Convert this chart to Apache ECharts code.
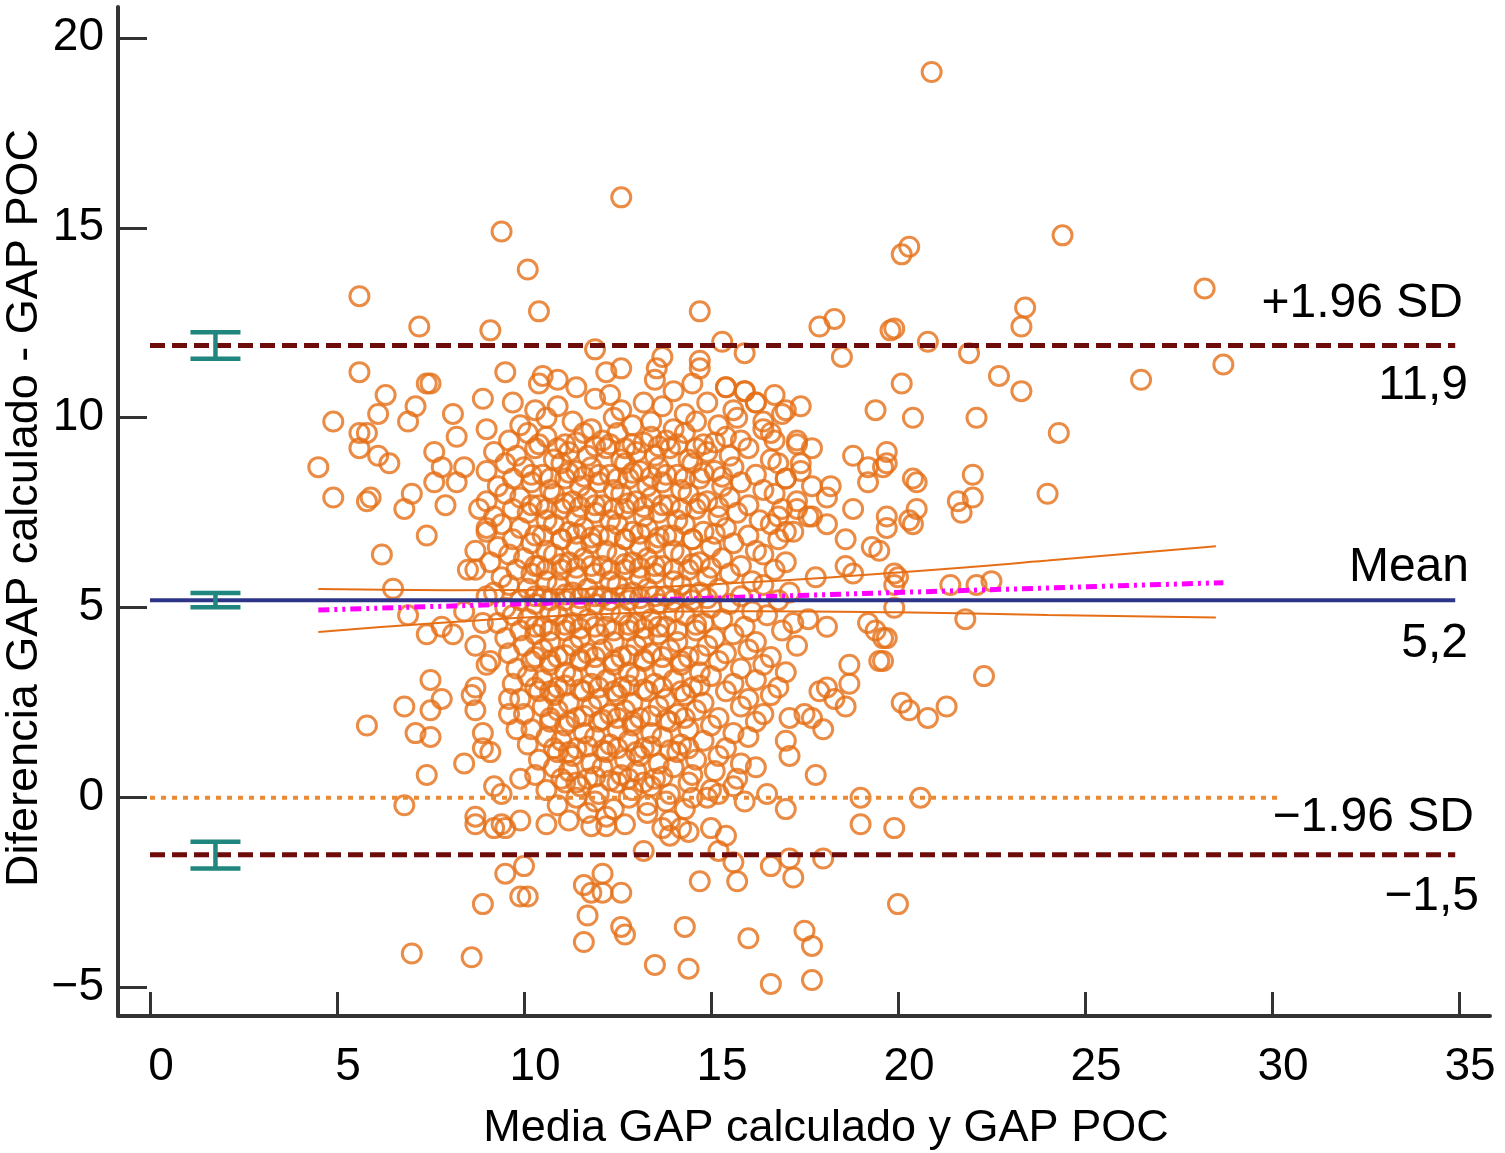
<!DOCTYPE html>
<html>
<head>
<meta charset="utf-8">
<script src="https://cdn.jsdelivr.net/npm/echarts@6/dist/echarts.min.js"></script>
<style>html,body{margin:0;padding:0;background:#fff}#c{width:1505px;height:1153px}</style>
</head>
<body>
<div id="c"></div>
<script>
// ---------- DATA ----------
const xTicks = [0, 5, 10, 15, 20, 25, 30, 35];
const yTicks = [-5, 0, 5, 10, 15, 20];

const meanDiff = 5.2;
const upperLoA = 11.9;
const lowerLoA = -1.5;

const pointsHigh = [[20.9,19.1],[12.6,15.8],[9.4,14.9],[24.4,14.8],[20.3,14.5],[20.1,14.3],[10.1,13.9],[5.6,13.2],[28.2,13.4],[10.4,12.8],[14.7,12.8],[23.4,12.9],[23.3,12.4],[7.2,12.4],[9.1,12.3],[17.9,12.4],[18.3,12.6],[19.8,12.3],[19.9,12.35],[20.8,12.0],[15.3,12.0],[11.9,11.8],[12.6,11.3],[13.7,11.6],[13.55,11.3],[14.7,11.5],[14.7,11.3],[15.9,11.7],[18.5,11.6],[21.9,11.7],[5.6,11.2],[9.5,11.2],[10.5,11.1],[28.7,11.4],[26.5,11.0],[22.7,11.1],[12.2,11.2],[10.9,11.0]];

const pointsLeft = [[4.5,8.7],[4.9,9.9],[4.9,7.9],[5.6,9.2],[5.8,9.6],[5.6,9.6],[5.8,7.8],[5.9,7.9],[5.8,1.9],[6.2,6.4],[6.1,10.1],[6.1,9.0],[6.3,10.6],[6.4,8.8],[6.5,5.5],[6.8,7.6],[6.8,2.4],[6.8,-0.2],[7.0,8.0],[6.9,9.9],[7.1,10.3],[7.1,1.7],[7.4,10.9],[7.5,10.9],[7.4,6.9],[7.5,3.1],[7.8,2.6],[7.5,2.3],[7.5,1.6],[7.4,0.6],[7.6,8.3],[7.6,9.1],[7.8,8.7],[7.4,4.3],[6.9,4.8],[7.9,7.7],[8.1,10.1],[8.2,9.5],[8.2,8.3],[8.4,8.7],[8.1,4.3],[7.8,4.5],[8.7,6.5],[9.0,7.1],[8.8,7.6],[8.4,0.9],[8.7,-0.5],[8.7,-0.7],[8.9,10.5],[9.0,9.7],[8.7,4.0],[9.0,3.5],[8.6,2.7],[8.7,2.3],[8.9,1.7],[8.9,1.3],[9.1,1.2],[9.2,0.3],[9.4,0.1],[9.4,-0.7],[9.9,0.5],[9.6,2.2],[9.6,2.6],[9.8,1.8],[9.1,3.6],[8.7,2.9],[8.9,4.6],[9.0,5.3],[8.4,4.9],[8.7,6.0],[8.5,6.0],[9.2,-0.8],[9.5,-0.8],[9.9,-0.6]];

const pointsLow = [[9.5,-2.0],[10.0,-1.8],[9.9,-2.6],[10.1,-2.6],[8.9,-2.8],[7.0,-4.1],[8.6,-4.2],[11.6,-2.3],[12.1,-2.0],[11.8,-2.5],[12.1,-2.5],[12.6,-2.5],[11.7,-3.1],[11.6,-3.8],[12.6,-3.4],[12.7,-3.6],[13.5,-4.4],[14.4,-4.5],[14.3,-3.4],[14.7,-2.2],[16.0,-3.7],[15.7,-2.2],[15.6,-1.7],[16.6,-1.8],[17.2,-2.1],[17.5,-3.5],[17.7,-3.9],[16.6,-4.9],[17.7,-4.8],[18.0,-1.6],[20.0,-2.8],[13.2,-1.4],[15.2,-1.4],[17.1,-1.6],[14.4,-0.9],[13.9,-1.0],[13.7,-0.8],[14.2,-0.8],[15.0,-0.8],[15.4,-1.0],[10.6,-0.7],[11.8,-0.75],[12.2,-0.75],[19.0,-0.7],[19.9,-0.8],[17.0,-0.3],[16.5,0.1],[15.9,-0.1],[15.2,0.1],[14.5,0.0],[19.0,0.0],[20.6,0.0],[17.8,0.6]];

const pointsRight = [[16.7,10.6],[17.0,10.2],[16.4,9.9],[16.7,9.4],[17.3,9.4],[17.7,9.2],[17.4,8.8],[17.0,8.4],[17.3,7.6],[16.8,7.4],[17.0,7.0],[15.4,10.8],[15.9,10.7],[16.2,10.4],[20.1,10.9],[20.4,10.0],[19.4,10.2],[18.8,9.0],[19.7,9.1],[19.7,8.8],[19.2,8.7],[19.6,8.7],[18.2,8.2],[19.2,8.3],[18.8,7.6],[18.1,7.2],[17.7,7.4],[19.7,7.4],[19.7,7.1],[20.3,7.3],[18.6,6.8],[19.3,6.6],[20.5,8.3],[20.4,8.4],[20.5,7.6],[20.4,7.2],[22.1,10.0],[22.0,8.5],[24.3,9.6],[23.3,10.7],[24.0,8.0],[22.0,7.9],[21.7,7.5],[21.6,7.8],[18.8,5.9],[19.9,5.9],[20.0,5.8],[19.9,5.6],[21.4,5.6],[22.5,5.7],[22.1,5.6],[19.9,5.0],[21.8,4.7],[17.6,4.7],[18.1,4.5],[19.2,4.6],[19.4,4.4],[19.6,4.2],[19.7,4.2],[19.5,3.6],[19.6,3.6],[18.7,3.5],[18.7,3.0],[18.1,2.9],[17.9,2.8],[18.3,2.6],[18.6,2.4],[20.1,2.5],[20.3,2.3],[20.8,2.1],[21.3,2.4],[22.3,3.2],[17.1,2.1],[17.5,2.2],[17.7,2.1],[18.0,1.8],[17.0,1.5],[17.1,1.1],[19.5,6.5],[18.6,6.1],[17.8,5.8]];

const pointsCoreUpper = [[10.4,10.9],[11.4,10.8],[12.3,10.6],[13.5,11.0],[14.0,10.7],[14.5,10.9],[15.4,10.8],[15.9,10.7],
[9.7,10.4],[10.3,10.2],[10.9,10.3],[11.9,10.5],[12.6,10.2],[13.2,10.4],[13.7,10.3],[14.3,10.1],[14.9,10.4],[15.6,10.2],[16.2,10.4],[16.9,10.1],[17.4,10.3],
[9.9,9.8],[10.6,10.0],[11.3,9.9],[11.8,9.7],[12.4,10.0],[12.9,9.8],[13.4,9.9],[14.0,9.7],[14.6,9.9],[15.2,9.8],[15.7,10.0],[16.4,9.7],
[9.6,9.4],[10.1,9.6],[10.6,9.5],[11.1,9.3],[11.6,9.6],[12.1,9.4],[12.5,9.6],[12.9,9.3],[13.4,9.5],[13.8,9.4],[14.3,9.6],[14.8,9.3],[15.4,9.5],[15.8,9.4],[16.6,9.6],[17.3,9.3],
[9.2,9.1],[9.8,9.0],[10.3,9.2],[10.8,8.9],[11.2,9.1],[11.7,9.0],[12.2,9.2],[12.6,8.9],[13.0,9.1],[13.5,9.0],[13.9,9.2],[14.4,8.9],[14.9,9.1],[15.5,9.0],[16.0,9.2],[16.6,8.9],
[9.0,8.6],[9.5,8.8],[10.0,8.7],[10.5,8.5],[11.0,8.8],[11.4,8.6],[11.8,8.7],[12.3,8.5],[12.7,8.8],[13.1,8.6],[13.6,8.7],[14.1,8.5],[14.5,8.8],[15.1,8.6],[15.6,8.7],[16.2,8.5],[16.8,8.8],[17.4,8.6],
[9.3,8.2],[9.7,8.4],[10.2,8.3],[10.7,8.1],[11.1,8.4],[11.5,8.2],[12.0,8.3],[12.4,8.1],[12.8,8.4],[13.3,8.2],[13.7,8.3],[14.2,8.1],[14.7,8.4],[15.3,8.2],[15.8,8.3],[16.4,8.1],[17.0,8.4],[17.7,8.2],
[9.0,7.8],[9.5,8.0],[9.9,7.9],[10.4,7.7],[10.8,8.0],[11.3,7.8],[11.7,7.9],[12.1,7.7],[12.6,8.0],[13.0,7.8],[13.4,7.9],[13.9,7.7],[14.4,8.0],[14.9,7.8],[15.5,7.9],[16.0,7.7],[16.7,8.0],[17.3,7.8],[18.1,7.9],
[9.2,7.4],[9.7,7.6],[10.1,7.5],[10.6,7.3],[11.0,7.6],[11.4,7.4],[11.9,7.5],[12.3,7.3],[12.7,7.6],[13.2,7.4],[13.6,7.5],[14.1,7.3],[14.6,7.6],[15.2,7.4],[15.7,7.5],[16.3,7.3],[16.9,7.6],[17.6,7.4],
[9.0,7.0],[9.4,7.2],[9.9,7.1],[10.3,6.9],[10.8,7.2],[11.2,7.0],[11.6,7.1],[12.0,6.9],[12.5,7.2],[12.9,7.0],[13.3,7.1],[13.8,6.9],[14.3,7.2],[14.8,7.0],[15.4,7.1],[16.0,6.9],[16.6,7.2],[17.2,7.0],
[9.3,6.6],[9.7,6.8],[10.2,6.7],[10.6,6.5],[11.0,6.8],[11.4,6.6],[11.8,6.7],[12.2,6.5],[12.7,6.8],[13.1,6.6],[13.5,6.7],[14.0,6.5],[14.5,6.8],[15.0,6.6],[15.6,6.7],[16.2,6.5],[16.8,6.8],
[9.1,6.2],[9.6,6.4],[10.0,6.3],[10.4,6.1],[10.8,6.4],[11.2,6.2],[11.6,6.3],[12.1,6.1],[12.5,6.4],[12.9,6.2],[13.3,6.3],[13.7,6.1],[14.2,6.4],[14.7,6.2],[15.3,6.3],[15.8,6.1],[16.4,6.4],[17.0,6.2]];

const pointsCoreLower = [[9.4,5.8],[9.8,6.0],[10.2,5.9],[10.6,5.7],[11.0,6.0],[11.4,5.8],[11.9,5.9],[12.3,5.7],[12.7,6.0],[13.1,5.8],[13.5,5.9],[14.0,5.7],[14.4,6.0],[14.9,5.8],[15.5,5.9],[16.1,5.7],[16.7,6.0],
[9.2,5.4],[9.6,5.6],[10.1,5.5],[10.5,5.3],[10.9,5.6],[11.3,5.4],[11.7,5.5],[12.1,5.3],[12.5,5.6],[12.9,5.4],[13.3,5.5],[13.8,5.3],[14.2,5.6],[14.7,5.4],[15.2,5.5],[15.8,5.3],[16.4,5.6],[17.1,5.4],
[9.5,5.0],[9.9,5.2],[10.3,5.1],[10.7,4.9],[11.1,5.2],[11.5,5.0],[11.9,5.1],[12.3,4.9],[12.8,5.2],[13.2,5.0],[13.6,5.1],[14.0,4.9],[14.5,5.2],[15.0,5.0],[15.5,5.1],[16.1,4.9],[16.8,5.2],
[9.3,4.6],[9.7,4.8],[10.1,4.7],[10.5,4.5],[10.9,4.8],[11.3,4.6],[11.7,4.7],[12.2,4.5],[12.6,4.8],[13.0,4.6],[13.4,4.7],[13.8,4.5],[14.3,4.8],[14.8,4.6],[15.3,4.7],[15.9,4.5],[16.5,4.8],[17.2,4.6],
[9.5,4.2],[9.9,4.4],[10.3,4.3],[10.7,4.1],[11.1,4.4],[11.5,4.2],[12.0,4.3],[12.4,4.1],[12.8,4.4],[13.2,4.2],[13.6,4.3],[14.1,4.1],[14.6,4.4],[15.1,4.2],[15.6,4.3],[16.2,4.1],[16.9,4.4],
[9.6,3.8],[10.0,4.0],[10.5,3.9],[10.9,3.7],[11.3,4.0],[11.7,3.8],[12.1,3.9],[12.6,3.7],[13.0,4.0],[13.4,3.8],[13.9,3.9],[14.4,3.7],[14.9,4.0],[15.4,3.8],[16.0,3.9],[16.6,3.7],[17.3,4.0],
[9.8,3.4],[10.2,3.6],[10.7,3.5],[11.1,3.3],[11.5,3.6],[11.9,3.4],[12.4,3.5],[12.8,3.3],[13.2,3.6],[13.7,3.4],[14.2,3.5],[14.7,3.3],[15.2,3.6],[15.8,3.4],[16.4,3.5],[17.0,3.3],
[9.7,3.0],[10.1,3.2],[10.5,3.1],[10.9,2.9],[11.3,3.2],[11.8,3.0],[12.2,3.1],[12.6,2.9],[13.0,3.2],[13.5,3.0],[14.0,3.1],[14.5,2.9],[15.0,3.2],[15.6,3.0],[16.2,3.1],[16.8,2.9],
[9.9,2.6],[10.4,2.8],[10.8,2.7],[11.2,2.5],[11.6,2.8],[12.0,2.6],[12.5,2.7],[12.9,2.5],[13.3,2.8],[13.8,2.6],[14.3,2.7],[14.8,2.5],[15.4,2.8],[16.0,2.6],[16.6,2.7],
[10.0,2.2],[10.5,2.4],[10.9,2.3],[11.4,2.1],[11.8,2.4],[12.3,2.2],[12.7,2.3],[13.1,2.1],[13.6,2.4],[14.1,2.2],[14.6,2.3],[15.2,2.1],[15.8,2.4],[16.4,2.2],
[10.2,1.8],[10.7,2.0],[11.1,1.9],[11.6,1.7],[12.0,2.0],[12.5,1.8],[12.9,1.9],[13.4,1.7],[13.9,2.0],[14.4,1.8],[15.0,1.9],[15.6,1.7],[16.2,2.0],
[10.1,1.4],[10.6,1.6],[11.0,1.5],[11.4,1.3],[11.9,1.6],[12.3,1.4],[12.8,1.5],[13.2,1.3],[13.7,1.6],[14.2,1.4],[14.8,1.5],[15.4,1.3],[16.0,1.6],
[10.4,1.0],[10.9,1.2],[11.3,1.1],[11.8,0.9],[12.2,1.2],[12.7,1.0],[13.1,1.1],[13.6,0.9],[14.1,1.2],[14.6,1.0],[15.2,1.1],[15.8,0.9],
[10.3,0.6],[10.8,0.8],[11.2,0.7],[11.7,0.5],[12.1,0.8],[12.6,0.6],[13.0,0.7],[13.5,0.5],[14.0,0.8],[14.5,0.6],[15.1,0.7],[15.7,0.5],[16.2,0.8],
[10.6,0.2],[11.1,0.4],[11.5,0.3],[12.0,0.1],[12.5,0.4],[12.9,0.2],[13.4,0.3],[13.9,0.1],[14.4,0.4],[15.0,0.2],[15.6,0.3],
[10.9,-0.2],[11.4,0.0],[11.9,-0.1],[12.4,-0.3],[12.8,0.0],[13.3,-0.2],[13.8,-0.1],[14.3,-0.3],[14.9,0.0],
[11.2,-0.6],[11.7,-0.4],[12.2,-0.5],[12.7,-0.7],[13.3,-0.4],[13.9,-0.6]];

const pointsCoreDense = [[10.4,9.3],[10.9,9.2],[11.4,9.35],[11.9,9.25],[12.3,9.3],[12.7,9.2],[13.2,9.35],[13.6,9.25],[14.1,9.3],[14.6,9.2],[15.1,9.35],
[10.2,8.5],[10.7,8.4],[11.2,8.55],[11.6,8.45],[12.0,8.5],[12.5,8.4],[12.9,8.55],[13.4,8.45],[13.8,8.5],[14.3,8.4],[14.8,8.55],[15.3,8.45],
[10.2,7.7],[10.6,7.6],[11.1,7.75],[11.5,7.65],[11.9,7.7],[12.4,7.6],[12.8,7.75],[13.2,7.65],[13.7,7.7],[14.2,7.6],[14.7,7.75],[15.2,7.65],
[10.5,6.9],[11.0,6.8],[11.4,6.95],[11.8,6.85],[12.3,6.9],[12.7,6.8],[13.1,6.95],[13.6,6.85],[14.0,6.9],[14.5,6.8],[15.1,6.95],
[10.3,6.1],[10.6,6.0],[11.0,6.15],[11.4,6.05],[11.8,6.1],[12.3,6.0],[12.7,6.15],[13.1,6.05],[13.5,6.1],[14.0,6.0],[14.5,6.15],[15.0,6.05],
[10.3,5.3],[10.7,5.2],[11.1,5.35],[11.5,5.25],[11.9,5.3],[12.3,5.2],[12.7,5.35],[13.1,5.25],[13.5,5.3],[14.0,5.2],[14.4,5.35],[14.9,5.25],
[10.3,4.5],[10.7,4.4],[11.1,4.55],[11.5,4.45],[11.9,4.5],[12.4,4.4],[12.8,4.55],[13.2,4.45],[13.6,4.5],[14.1,4.4],[14.6,4.55],
[10.3,3.7],[10.7,3.6],[11.1,3.75],[11.5,3.65],[11.9,3.7],[12.4,3.6],[12.8,3.75],[13.2,3.65],[13.7,3.7],[14.2,3.6],[14.7,3.75],
[10.3,2.9],[10.7,2.8],[11.1,2.95],[11.5,2.85],[12.0,2.9],[12.4,2.8],[12.8,2.95],[13.2,2.85],[13.7,2.9],[14.2,2.8],[14.7,2.95],
[10.7,2.1],[11.2,2.0],[11.6,2.15],[12.1,2.05],[12.5,2.1],[12.9,2.0],[13.4,2.15],[13.8,2.05],[14.3,2.1],
[10.8,1.3],[11.2,1.2],[11.7,1.35],[12.1,1.25],[12.5,1.3],[13.0,1.2],[13.4,1.35],[13.9,1.25],[14.4,1.3],
[11.0,0.5],[11.4,0.4],[11.9,0.55],[12.3,0.45],[12.8,0.5],[13.2,0.4],[13.7,0.55]];

// regression line and its 95% confidence band
const regressionLine = [[4.5,4.94],[28.7,5.66]];
const ciUpper = [[4.5,5.49],[8,5.46],[12,5.5],[16,5.67],[20,5.93],[24,6.24],[28.5,6.62]];
const ciLower = [[4.5,4.36],[8,4.62],[12,4.83],[16,4.91],[20,4.88],[24,4.81],[28.5,4.74]];

// reference lines: [xStart, xEnd]
const refLineSpan = [0, 34.9];
const zeroLineSpan = [0, 30.2];

// confidence intervals of mean & limits: [x, low, high]
const errorBars = [[1.75, 11.55, 12.25], [1.75, 5.01, 5.39], [1.75, -1.86, -1.16]];

// ---------- CHART ----------
const FONT = '"Liberation Sans", Arial, Helvetica, sans-serif';
const ORANGE = '#E56F17';
const minus = v => String(v).replace('-', '\u2212');

const chart = echarts.init(document.getElementById('c'), null, {renderer: 'canvas'});
const allPoints = [].concat(pointsHigh, pointsLeft, pointsLow, pointsRight, pointsCoreUpper, pointsCoreLower, pointsCoreDense);

const hLine = (y, span) => [[span[0], y], [span[1], y]];
const txt = (x, y, text, size, align) => ({type: 'text', x: x, y: y, style: {text: text, font: size + 'px ' + FONT, fill: '#000', textAlign: align, textVerticalAlign: 'middle', align: align, verticalAlign: 'middle'}});

chart.setOption({
  animation: false,
  backgroundColor: '#ffffff',
  grid: {left: 118, right: 15, top: 7, bottom: 137, containLabel: false},
  xAxis: {
    type: 'value', min: -0.856, max: 35.83,
    splitLine: {show: false},
    axisLine: {onZero: false, lineStyle: {color: '#333333', width: 4}},
    axisTick: {inside: true, length: 24, lineStyle: {color: '#333333', width: 3}, customValues: xTicks},
    axisLabel: {customValues: xTicks, fontSize: 46, fontFamily: FONT, color: '#000', margin: 28, padding: [0, 0, 0, 22], formatter: minus}
  },
  yAxis: {
    type: 'value', min: -5.745, max: 20.81,
    splitLine: {show: false},
    axisLine: {onZero: false, lineStyle: {color: '#333333', width: 4}},
    axisTick: {inside: true, length: 29, lineStyle: {color: '#333333', width: 3}, customValues: yTicks},
    axisLabel: {customValues: yTicks, fontSize: 46, fontFamily: FONT, color: '#000', margin: 14, formatter: minus}
  },
  graphic: [
    txt(826, 1129, 'Media GAP calculado y GAP POC', 45, 'center'),
    Object.assign(txt(25, 508, 'Diferencia GAP calculado - GAP POC', 45, 'center'), {rotation: Math.PI / 2}),
    txt(1463, 304, '+1.96 SD', 48, 'right'),
    txt(1468, 386, '11,9', 48, 'right'),
    txt(1469, 568, 'Mean', 48, 'right'),
    txt(1468, 644, '5,2', 48, 'right'),
    txt(1474, 818, '\u22121.96 SD', 48, 'right'),
    txt(1479, 897, '\u22121,5', 48, 'right')
  ],
  series: [
    {
      type: 'scatter', data: allPoints, symbol: 'circle', symbolSize: 19, z: 2, silent: true,
      itemStyle: {color: 'rgba(255,255,255,0)', borderColor: ORANGE, borderWidth: 3}
    },
    {type: 'line', data: ciUpper, smooth: true, showSymbol: false, silent: true, z: 3, lineStyle: {color: ORANGE, width: 2}},
    {type: 'line', data: ciLower, smooth: true, showSymbol: false, silent: true, z: 3, lineStyle: {color: ORANGE, width: 2}},
    {type: 'line', data: hLine(0, zeroLineSpan), showSymbol: false, silent: true, z: 3, lineStyle: {color: '#E98A35', width: 4, type: [5, 6], cap: 'butt'}},
    {type: 'line', data: regressionLine, showSymbol: false, silent: true, z: 4, lineStyle: {color: '#FF00FF', width: 5, type: [11, 5, 3, 5, 3, 5]}},
    {type: 'line', data: hLine(meanDiff, refLineSpan), showSymbol: false, silent: true, z: 5, lineStyle: {color: '#2E3488', width: 4}},
    {type: 'line', data: hLine(upperLoA, refLineSpan), showSymbol: false, silent: true, z: 5, lineStyle: {color: '#6E0B0B', width: 5, type: [15, 7]}},
    {type: 'line', data: hLine(lowerLoA, refLineSpan), showSymbol: false, silent: true, z: 5, lineStyle: {color: '#6E0B0B', width: 5, type: [15, 7]}},
    {
      type: 'custom', data: errorBars, z: 6, silent: true,
      renderItem: function (params, api) {
        const x = api.value(0);
        const top = api.coord([x, api.value(2)]);
        const bot = api.coord([x, api.value(1)]);
        const hw = 25;
        const st = {stroke: '#21867E', lineWidth: 4.5};
        return {
          type: 'group',
          children: [
            {type: 'line', shape: {x1: top[0], y1: top[1], x2: bot[0], y2: bot[1]}, style: st},
            {type: 'line', shape: {x1: top[0] - hw, y1: top[1], x2: top[0] + hw, y2: top[1]}, style: st},
            {type: 'line', shape: {x1: bot[0] - hw, y1: bot[1], x2: bot[0] + hw, y2: bot[1]}, style: st}
          ]
        };
      }
    }
  ]
});
</script>
</body>
</html>
